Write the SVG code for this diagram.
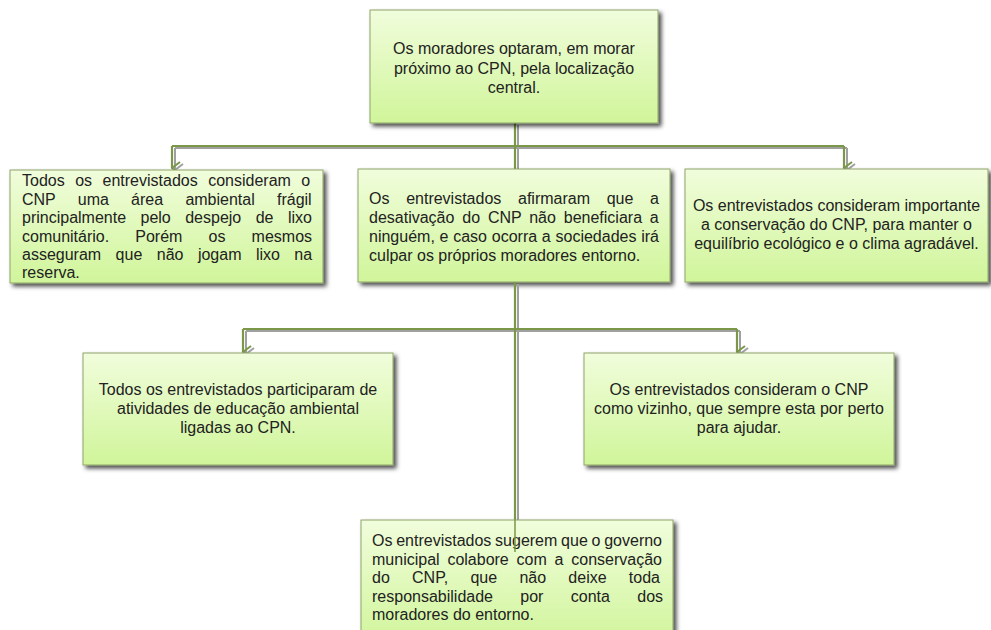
<svg xmlns="http://www.w3.org/2000/svg" width="991" height="630" viewBox="0 0 991 630">
<defs>
<linearGradient id="g" x1="0" y1="0" x2="0" y2="1">
<stop offset="0" stop-color="#f1fddc"/>
<stop offset="1" stop-color="#d0f59a"/>
</linearGradient>
<filter id="sh" x="-5%" y="-5%" width="115%" height="120%">
<feDropShadow dx="3" dy="3" stdDeviation="2" flood-color="#000" flood-opacity="0.7"/>
</filter>
<marker id="ah" markerWidth="14" markerHeight="10" refX="7" refY="9" orient="auto-start-reverse" markerUnits="userSpaceOnUse" viewBox="0 0 14 10">
<polyline points="1,1 7,9 13,1" fill="none" stroke="#7a9848" stroke-width="2"/>
</marker>
<marker id="ahs" markerWidth="14" markerHeight="10" refX="7" refY="9" orient="auto-start-reverse" markerUnits="userSpaceOnUse" viewBox="0 0 14 10">
<polyline points="1,1 7,9 13,1" fill="none" stroke="#a0a0a0" stroke-width="2"/>
</marker>
</defs>
<style>
.box{fill:url(#g);stroke:#8fa468;stroke-width:1;filter:url(#sh)}
.t{font-family:"Liberation Sans",Arial,sans-serif;font-size:16px;fill:#222}
.c{text-anchor:middle}
.ln{fill:none;stroke:#7a9848;stroke-width:2.2}
.lns{fill:none;stroke:#a0a0a0;stroke-width:2}
</style>
<rect width="991" height="630" fill="#fff"/>

<g id="connectors-under">
<g transform="translate(3,2)">
<path class="lns" d="M515,123 V169"/>
<path class="lns" d="M172,146 H844"/>
<path class="lns" d="M172,146 V168" marker-end="url(#ahs)"/>
<path class="lns" d="M844,146 V168" marker-end="url(#ahs)"/>
</g>
<path class="ln" d="M515,123 V169"/>
<path class="ln" d="M172,146 H844"/>
<path class="ln" d="M172,146 V168" marker-end="url(#ah)"/>
<path class="ln" d="M844,146 V168" marker-end="url(#ah)"/>
</g>

<g id="n1">
<rect class="box" x="370" y="10" width="288" height="113"/>
<text class="t c" x="514" y="54">Os moradores optaram, em morar</text>
<text class="t c" x="514" y="73.5">próximo ao CPN, pela localização</text>
<text class="t c" x="514" y="93">central.</text>
</g>

<g id="n2">
<rect class="box" x="10" y="170" width="313" height="113"/>
<text class="t" x="22" y="186" word-spacing="6.03">Todos os entrevistados consideram o</text>
<text class="t" x="22" y="204.5" word-spacing="17.8">CNP uma área ambiental frágil</text>
<text class="t" x="22" y="223" word-spacing="10">principalmente pelo despejo de lixo</text>
<text class="t" x="22" y="241.5" word-spacing="21.7">comunitário. Porém os mesmos</text>
<text class="t" x="22" y="260" word-spacing="10">asseguram que não jogam lixo na</text>
<text class="t" x="22" y="278">reserva.</text>
</g>

<g id="n3">
<rect class="box" x="358" y="169" width="312" height="113"/>
<text class="t" x="369" y="204" word-spacing="12.25">Os entrevistados afirmaram que a</text>
<text class="t" x="369" y="223" word-spacing="3.4">desativação do CNP não beneficiara a</text>
<text class="t" x="369" y="242" word-spacing="0.3">ninguém, e caso ocorra a sociedades irá</text>
<text class="t" x="369" y="261">culpar os próprios moradores entorno.</text>
</g>

<g id="n4">
<rect class="box" x="685" y="169" width="303" height="113"/>
<text class="t c" x="836.5" y="211">Os entrevistados consideram importante</text>
<text class="t c" x="836.5" y="230">a conservação do CNP, para manter o</text>
<text class="t c" x="836.5" y="249">equilíbrio ecológico e o clima agradável.</text>
</g>

<g id="connectors-lower">
<g transform="translate(3,2)">
<path class="lns" d="M515,282 V552"/>
<path class="lns" d="M243,329 H737"/>
<path class="lns" d="M243,329 V352" marker-end="url(#ahs)"/>
<path class="lns" d="M737,329 V352" marker-end="url(#ahs)"/>
</g>
<path class="ln" d="M515,282 V520"/>
<path class="ln" d="M243,329 H737"/>
<path class="ln" d="M243,329 V352" marker-end="url(#ah)"/>
<path class="ln" d="M737,329 V352" marker-end="url(#ah)"/>
</g>

<g id="n5">
<rect class="box" x="83" y="353" width="310" height="112"/>
<text class="t c" x="238" y="395">Todos os entrevistados participaram de</text>
<text class="t c" x="238" y="414">atividades de educação ambiental</text>
<text class="t c" x="238" y="433">ligadas ao CPN.</text>
</g>

<g id="n6">
<rect class="box" x="584" y="353" width="310" height="112"/>
<text class="t c" x="739" y="395">Os entrevistados consideram o CNP</text>
<text class="t c" x="739" y="414">como vizinho, que sempre esta por perto</text>
<text class="t c" x="739" y="433">para ajudar.</text>
</g>

<g id="n7">
<rect class="box" x="361" y="520" width="312" height="125"/>
<text class="t" x="372" y="546" word-spacing="-0.7">Os entrevistados sugerem que o governo</text>
<text class="t" x="372" y="564.5" word-spacing="3.35">municipal colabore com a conservação</text>
<text class="t" x="372" y="583" word-spacing="17.8">do CNP, que não deixe toda</text>
<text class="t" x="372" y="601.5" word-spacing="22.9">responsabilidade por conta dos</text>
<text class="t" x="372" y="620">moradores do entorno.</text>
</g>

<g id="connector-overlay">
<path d="M515,520 V552" stroke="#7a9848" stroke-width="1.5" fill="none"/>
</g>
</svg>
